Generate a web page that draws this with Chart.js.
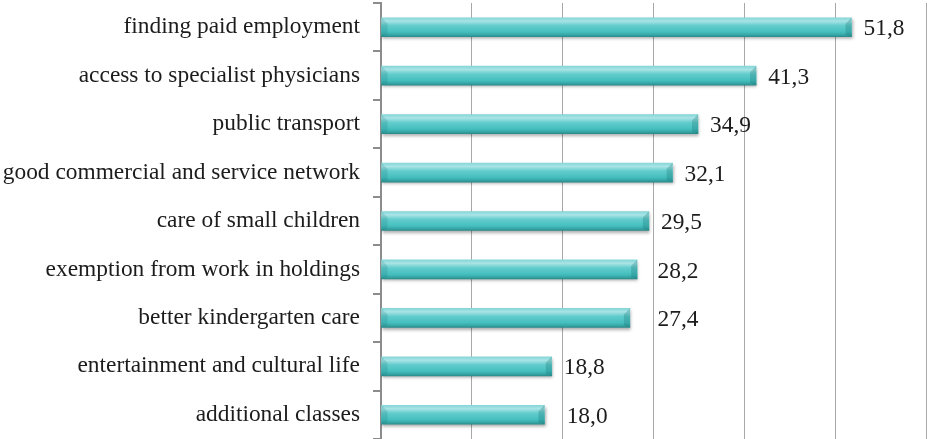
<!DOCTYPE html>
<html>
<head>
<meta charset="utf-8">
<script src="https://cdn.jsdelivr.net/npm/chart.js@4.4.1/dist/chart.umd.min.js"></script>
<style>
  html, body { margin: 0; padding: 0; background: #ffffff; }
  #wrap { width: 927px; height: 439px; position: relative; }
</style>
</head>
<body>
<div id="wrap"><canvas id="chart"></canvas></div>
<script>
// Survey answers, share of respondents (%)
const categories = [
  'finding paid employment',
  'access to specialist physicians',
  'public transport',
  'good commercial and service network',
  'care of small children',
  'exemption from work in holdings',
  'better kindergarten care',
  'entertainment and cultural life',
  'additional classes'
];
const values = [51.8, 41.3, 34.9, 32.1, 29.5, 28.2, 27.4, 18.8, 18.0];
const axisMin = 0;
const axisMax = 60;
const axisStep = 10;

const FONT_FAMILY = '"Liberation Serif", "Times New Roman", serif';
const FONT_SIZE = 23.4;
const fmt = v => v.toFixed(1).replace('.', ',');

// Vertical teal gradient centred on each bar, giving the rounded 3D look
function barFill(c) {
  const chart = c.chart;
  const y = chart.scales && chart.scales.y;
  if (!y || c.dataIndex === undefined) return '#4cc4c4';
  const cy = y.getPixelForValue(c.dataIndex);
  if (!isFinite(cy)) return '#4cc4c4';
  const h = 19;
  const g = chart.ctx.createLinearGradient(0, cy - h / 2, 0, cy + h / 2);
  g.addColorStop(0.00, '#86d6d8');
  g.addColorStop(0.18, '#a9e4e6');
  g.addColorStop(0.42, '#62cccc');
  g.addColorStop(0.75, '#46bfbf');
  g.addColorStop(0.90, '#37a7a7');
  g.addColorStop(1.00, '#2b8c8c');
  return g;
}

// Soft drop shadow under the bars
const barShadow = {
  id: 'barShadow',
  beforeDatasetDraw(chart) {
    const ctx = chart.ctx;
    ctx.save();
    ctx.shadowColor = 'rgba(0,0,0,0.32)';
    ctx.shadowBlur = 3;
    ctx.shadowOffsetX = 1;
    ctx.shadowOffsetY = 2;
  },
  afterDatasetDraw(chart) {
    chart.ctx.restore();
  }
};

// Bevelled ends of each bar plus the value labels
const barDecor = {
  id: 'barDecor',
  afterDatasetsDraw(chart) {
    const ctx = chart.ctx;
    const x = chart.scales.x;
    const meta = chart.getDatasetMeta(0);
    const gridPx = x.ticks.map(t => x.getPixelForValue(t.value));
    ctx.save();
    meta.data.forEach((bar) => {
      const top = bar.y - bar.height / 2;
      const bot = bar.y + bar.height / 2;
      const xe = bar.x;
      const xb = bar.base;
      const b = 6;
      // right end face
      ctx.beginPath();
      ctx.moveTo(xe - b, top + b);
      ctx.lineTo(xe, top);
      ctx.lineTo(xe, bot);
      ctx.lineTo(xe - b, bot - 2);
      ctx.closePath();
      ctx.fillStyle = 'rgba(20,110,110,0.28)';
      ctx.fill();
      // left end face
      ctx.beginPath();
      ctx.moveTo(xb, top);
      ctx.lineTo(xb + b, top + b);
      ctx.lineTo(xb + b, bot - 2);
      ctx.lineTo(xb, bot);
      ctx.closePath();
      ctx.fillStyle = 'rgba(20,110,110,0.18)';
      ctx.fill();
    });
    ctx.font = FONT_SIZE + 'px ' + FONT_FAMILY;
    ctx.fillStyle = '#1c1c1c';
    ctx.textBaseline = 'middle';
    ctx.textAlign = 'left';
    meta.data.forEach((bar, i) => {
      let lx = bar.x + 12;
      // keep a value label clear of a gridline that would cut its first digit
      for (const g of gridPx) {
        if (g > lx && g < lx + 12) lx = g + 4;
      }
      ctx.fillText(fmt(values[i]), lx, bar.y + 2);
    });
    ctx.restore();
  }
};

new Chart(document.getElementById('chart'), {
  type: 'bar',
  data: {
    labels: categories,
    datasets: [{
      data: values,
      backgroundColor: barFill,
      borderWidth: 0,
      barThickness: 19
    }]
  },
  options: {
    indexAxis: 'y',
    responsive: true,
    maintainAspectRatio: false,
    animation: false,
    events: [],
    layout: { padding: { top: 3, right: 1, bottom: -3, left: 0 } },
    plugins: {
      legend: { display: false },
      tooltip: { enabled: false }
    },
    scales: {
      x: {
        min: axisMin,
        max: axisMax,
        ticks: { display: false, stepSize: axisStep },
        grid: { color: '#a8a8a8', lineWidth: 1, drawTicks: false },
        border: { display: false },
        afterFit: s => { s.height = 0; s.paddingLeft = 0; s.paddingRight = 0; }
      },
      y: {
        afterFit: s => {
          s.width = 381;
          s.paddingTop = 0;
          s.paddingBottom = 0;
        },
        ticks: {
          color: '#1c1c1c',
          font: { family: FONT_FAMILY, size: FONT_SIZE },
          padding: 13
        },
        grid: {
          offset: true,
          drawOnChartArea: false,
          drawTicks: true,
          tickLength: 8,
          color: '#8c8c8c',
          lineWidth: 2
        },
        border: { display: true, color: '#8c8c8c', width: 2 }
      }
    }
  },
  plugins: [barShadow, barDecor]
});
</script>
</body>
</html>
